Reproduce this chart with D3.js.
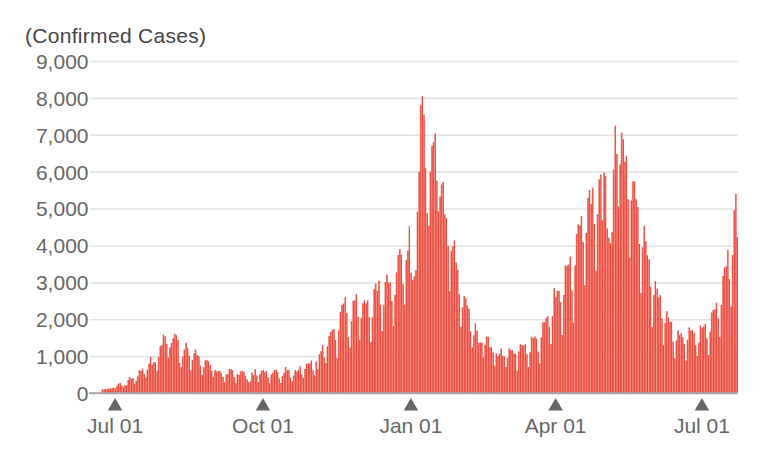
<!DOCTYPE html>
<html><head><meta charset="utf-8">
<script src="https://cdn.jsdelivr.net/npm/d3@7/dist/d3.min.js"></script>
<style>body{margin:0;background:#fff}svg{display:block}</style>
</head><body><svg id="c" width="778" height="468"></svg>
<script>
// ---- data (daily confirmed cases, starting 2020-06-23) ----
const startDate = "2020-06-23";
const jun2020 = [95, 100, 105, 110, 120, 125, 125, 140];
const jul2020 = [124, 194, 250, 274, 208, 160, 207, 206, 355, 430, 385, 407, 254, 333, 455, 622, 594, 663, 509, 419, 631, 795, 981, 769, 840, 830, 599, 982, 1264, 1301, 1580];
const aug2020 = [1536, 1331, 958, 1235, 1356, 1485, 1605, 1566, 1442, 815, 702, 985, 1176, 1360, 1227, 1011, 614, 896, 1073, 1182, 1031, 1001, 740, 491, 697, 882, 889, 861, 760, 595, 437];
const sep2020 = [628, 580, 594, 596, 542, 436, 302, 503, 509, 649, 642, 614, 436, 268, 516, 488, 588, 603, 572, 464, 367, 293, 313, 555, 486, 646, 476, 298, 510, 600];
const oct2020 = [626, 561, 596, 423, 273, 497, 553, 617, 627, 569, 393, 271, 465, 548, 703, 617, 624, 414, 316, 477, 622, 589, 625, 722, 500, 405, 650, 790, 810, 800, 875];
const nov2020 = [613, 486, 855, 645, 1045, 1137, 1300, 960, 810, 1270, 1547, 1658, 1707, 1735, 1437, 948, 1699, 2201, 2388, 2424, 2596, 2168, 1520, 1228, 1946, 2499, 2508, 2684, 2068, 1436];
const dec2020 = [2030, 2433, 2507, 2430, 2508, 2058, 1386, 2052, 2812, 2971, 2774, 3041, 2395, 1681, 2388, 3004, 3211, 2996, 2992, 2494, 1809, 2660, 3269, 3740, 3900, 3750, 2948, 2395, 3606, 3852, 4520];
const jan2021 = [3257, 3059, 3158, 3325, 4915, 6004, 7800, 8050, 7540, 6094, 4876, 4537, 6000, 6700, 6800, 7040, 5759, 4925, 5320, 5654, 5720, 4840, 4734, 3990, 2764, 3852, 3978, 4133, 3535, 3342, 2673];
const feb2021 = [1792, 2324, 2631, 2576, 2368, 2286, 1670, 1237, 1567, 1887, 1691, 1359, 1373, 1362, 962, 1308, 1533, 1524, 1237, 1243, 1100, 740, 1070, 1000, 1070, 1200, 1000, 990];
const mar2021 = [700, 951, 1211, 1168, 1152, 1065, 1060, 600, 1125, 1316, 1298, 1280, 1330, 1051, 702, 1105, 1525, 1485, 1528, 1473, 1120, 804, 1513, 1915, 1918, 2033, 2082, 1785, 1330, 2080, 2843];
const apr2021 = [2596, 2773, 2766, 2471, 1572, 2657, 3451, 3447, 3481, 3697, 2780, 1906, 3455, 4312, 4570, 4532, 4800, 4091, 2924, 4342, 5289, 5504, 5119, 5567, 4585, 3316, 4847, 5790, 5923, 4680];
const may2021 = [5975, 5880, 4460, 4210, 4060, 4360, 6052, 7244, 6479, 5054, 6199, 7055, 6878, 6273, 6423, 5253, 3673, 5217, 5730, 5741, 5251, 5041, 4040, 2709, 3950, 4530, 4116, 3730, 3620, 2880, 1792];
const jun2021 = [2660, 3030, 2830, 2590, 2650, 2020, 1300, 1890, 2220, 2050, 1930, 1930, 1390, 940, 1420, 1690, 1570, 1620, 1510, 1320, 880, 1440, 1780, 1690, 1710, 1620, 1300, 1000, 1370, 1830];
const jul2021 = [1770, 1800, 1870, 1480, 1030, 1660, 2180, 2250, 2270, 2450, 2020, 1510, 2390, 3170, 3410, 3430, 3880, 3090, 2340, 3740, 4950, 5400, 4220];

const tickDates = ["2020-07-01", "2020-10-01", "2021-01-01", "2021-04-01", "2021-07-01"];
const tickLabels = ["Jul 01", "Oct 01", "Jan 01", "Apr 01", "Jul 01"];
const yTicks = [0, 1000, 2000, 3000, 4000, 5000, 6000, 7000, 8000, 9000];
const yTitle = "(Confirmed Cases)";

// ---- build ----
const values = [].concat(jun2020, jul2020, aug2020, sep2020, oct2020, nov2020, dec2020,
  jan2021, feb2021, mar2021, apr2021, may2021, jun2021, jul2021);
const parse = d3.utcParse("%Y-%m-%d");
const fmt = d3.utcFormat("%Y-%m-%d");
const start = parse(startDate);
const data = values.map((v, i) => ({ key: fmt(d3.utcDay.offset(start, i)), v }));

const FONT = '"Helvetica Neue", Helvetica, "Liberation Sans", Arial, sans-serif';
const FS = 21;
const svg = d3.select("#c");

const x = d3.scaleBand().domain(data.map(d => d.key)).range([101.5, 738]).paddingInner(0.1);
const y = d3.scaleLinear().domain([0, 9000]).range([393, 61]);

// gridlines + y labels
const yAxis = svg.append("g").attr("transform", "translate(90,0)")
  .call(d3.axisLeft(y).tickValues(yTicks).tickFormat(d3.format(",")).tickSize(-648).tickPadding(1.5));
yAxis.select(".domain").remove();
yAxis.selectAll(".tick line").attr("stroke", d => d === 0 ? "#a6a6a6" : "#e3e3e3").attr("stroke-width", 1.6);
yAxis.selectAll(".tick text").attr("fill", "#666").attr("font-size", FS)
  .attr("font-family", FONT).attr("dy", "0.35em");

// bars
const bars = svg.append("g");
bars.selectAll("rect.b").data(data).join("rect").attr("class", "b")
  .attr("x", d => x(d.key)).attr("width", x.bandwidth())
  .attr("y", d => y(d.v)).attr("height", d => y(0) - y(d.v))
  .attr("fill", "#f57a6d");
bars.selectAll("rect.e").data(data).join("rect").attr("class", "e")
  .attr("x", d => x(d.key) + x.bandwidth() - 0.6).attr("width", 0.6)
  .attr("y", d => y(d.v)).attr("height", d => y(0) - y(d.v))
  .attr("fill", "#e3281b");

// baseline
svg.append("line").attr("x1", 89).attr("x2", 738).attr("y1", y(0)).attr("y2", y(0))
  .attr("stroke", "#a6a6a6").attr("stroke-width", 1.6);

// x ticks: triangles + labels
const tg = svg.append("g");
const ticks = tickDates.map((d, i) => ({ key: d, label: tickLabels[i] }));
tg.selectAll("path").data(ticks).join("path")
  .attr("d", d3.symbol(d3.symbolTriangle, 92))
  .attr("transform", d => `translate(${x(d.key) + x.bandwidth() / 2},406.3)`)
  .attr("fill", "#666");
tg.selectAll("text").data(ticks).join("text")
  .attr("x", d => x(d.key) + x.bandwidth() / 2).attr("y", 433)
  .attr("text-anchor", "middle").attr("fill", "#666")
  .attr("font-size", FS).attr("font-family", FONT).text(d => d.label);

// title
svg.append("text").attr("x", 25).attr("y", 43).attr("fill", "#444")
  .attr("font-size", FS).attr("letter-spacing", 0.3).attr("font-family", FONT).text(yTitle);
</script></body></html>
